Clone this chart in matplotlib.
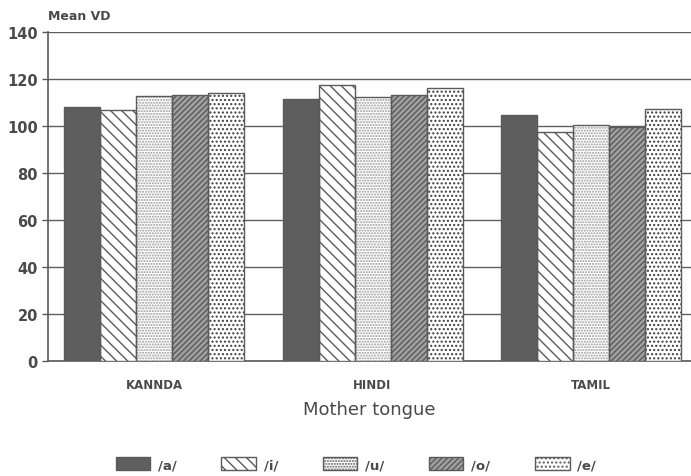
import matplotlib.pyplot as plt
import numpy as np

plt.rcParams['hatch.color'] = '#5a5a5a'
plt.rcParams['hatch.linewidth'] = 1.0

groups = ['KANNDA', 'HINDI', 'TAMIL']
vowels = ['/a/', '/i/', '/u/', '/o/', '/e/']
# mean VD per vowel, one list per mother tongue
kannada = [108.1, 106.8, 112.9, 113.3, 113.9]
hindi = [111.5, 117.6, 112.5, 113.3, 116.3]
tamil = [104.7, 97.6, 100.6, 99.4, 107.2]
values = np.array([kannada, hindi, tamil])

fills = ['#5e5e5e', 'white', 'white', '#a0a0a0', 'white']
hatches = [None, '\\\\\\', '......', '//////', '....']
hatch_cols = ['#5a5a5a', '#5a5a5a', '#9a9a9a', '#5a5a5a', '#3e3e3e']

ink = '#4a4a4a'
fig = plt.figure(figsize=(6.91, 4.77), dpi=100)
ax = fig.add_axes([0.07, 0.241, 0.93, 0.69])

x = np.arange(len(groups))
w = 0.165
handles = []
for i, v in enumerate(vowels):
    b = ax.bar(x + (i - 2) * w, values[:, i], w, color=fills[i],
               hatch=hatches[i], edgecolor=hatch_cols[i], linewidth=0,
               zorder=3, label=v)
    # outline drawn separately so the hatch can keep its own shade
    ax.bar(x + (i - 2) * w, values[:, i], w, fill=False,
           edgecolor='#5a5a5a', linewidth=1.0, zorder=4)
    handles.append(b)

ax.set_ylim(0, 140)
ax.set_xlim(-0.486, 2.46)
ax.set_yticks(np.arange(0, 141, 20))
ax.yaxis.grid(True, color='#5e5e5e', linewidth=1.0, zorder=0)
ax.set_axisbelow(True)
for s in ['top', 'right']:
    ax.spines[s].set_visible(False)
for s in ['left', 'bottom']:
    ax.spines[s].set_color('#5a5a5a')
    ax.spines[s].set_linewidth(1.2)

ax.set_xticks(x)
ax.set_xticklabels(groups, fontsize=8.5, fontweight='bold', color=ink)
ax.tick_params(axis='x', length=0, pad=12)
ax.tick_params(axis='y', labelsize=10.5, labelcolor=ink, colors='#5a5a5a',
               length=4, width=1.0)
for t in ax.get_yticklabels():
    t.set_fontweight('bold')

ax.text(0.0, 1.03, 'Mean VD', transform=ax.transAxes, fontsize=9,
        fontweight='bold', color=ink, ha='left', va='bottom')
ax.set_xlabel('Mother tongue', fontsize=13, color=ink, labelpad=7)

leg = fig.legend(handles=handles, labels=vowels, loc='center',
                 bbox_to_anchor=(0.515, 0.025), ncol=5, frameon=False,
                 handlelength=2.6, handleheight=1.2, columnspacing=3.4,
                 handletextpad=0.6,
                 prop={'size': 9.5, 'weight': 'bold'})
for t, p in zip(leg.get_texts(), leg.get_patches()):
    t.set_color(ink)
    p.set_linewidth(1.0)
    p.set_edgecolor('#5a5a5a')

fig.savefig('out.png', dpi=100)
